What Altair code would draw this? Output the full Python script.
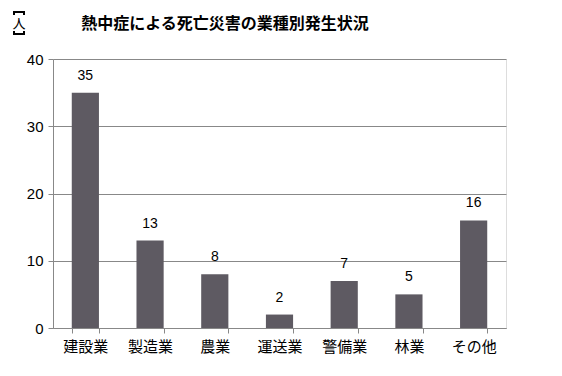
import altair as alt
import pandas as pd

categories = ["建設業", "製造業", "農業", "運送業", "警備業", "林業", "その他"]
deaths = [35, 13, 8, 2, 7, 5, 16]
y_ticks = [0, 10, 20, 30, 40]
title_text = "熱中症による死亡災害の業種別発生状況"
unit_text = "人"

df = pd.DataFrame({"cat": categories, "v": deaths})
FONT = "Noto Sans CJK JP"

x = alt.X("cat:N", sort=categories, title=None,
          scale=alt.Scale(paddingInner=0.58, paddingOuter=0.29),
          axis=alt.Axis(labelAngle=0, labelFontSize=15, labelFont=FONT, labelColor="#000",
                        labelPadding=6, tickSize=5, tickColor="#888", domainColor="#888",
                        tickBand="extent", grid=False))
y = alt.Y("v:Q", title=None, scale=alt.Scale(domain=[0, 40], nice=False),
          axis=alt.Axis(values=y_ticks, labelFontSize=15, labelFont="Liberation Sans",
                        labelColor="#000", labelPadding=5, tickSize=5, tickColor="#888",
                        domainColor="#888", gridColor="#888", gridOpacity=1))

bars = alt.Chart(df).mark_bar(color="#5e5a62").encode(x=x, y=y)
labels = alt.Chart(df).mark_text(dy=-10, baseline="bottom", fontSize=14,
                                 font="Liberation Sans", color="#000").encode(
    x=alt.X("cat:N", sort=categories), y="v:Q", text="v:Q")

title = alt.Chart(pd.DataFrame({"t": [title_text]})).mark_text(
    fontSize=16, fontWeight="bold", font=FONT, color="#000", align="center", baseline="middle"
).encode(x=alt.value(172), y=alt.value(-35), text="t:N")

unit = alt.Chart(pd.DataFrame({"t": [unit_text]})).mark_text(
    fontSize=13, font=FONT, color="#000", align="center", baseline="middle"
).encode(x=alt.value(-34), y=alt.value(-35), text="t:N")

def seg(x1, x2, y1, y2):
    return alt.Chart(pd.DataFrame({"a": [0]})).mark_rule(color="#000", strokeWidth=2).encode(
        x=alt.value(x1), x2=alt.value(x2), y=alt.value(y1), y2=alt.value(y2))

brackets = [
    seg(-39, -29, -47, -47), seg(-39, -39, -48, -44), seg(-29, -29, -48, -44),
    seg(-39, -29, -25, -25), seg(-39, -39, -28, -24), seg(-29, -29, -28, -24),
]

chart = alt.layer(bars, labels, title, unit, *brackets).properties(
    width=453, height=269,
    autosize=alt.AutoSizeParams(type="none"),
    padding={"left": 45, "top": 51, "right": 48, "bottom": 40},
).configure_view(stroke=None).configure(background="white")

chart.save("out.html", embed_options={"renderer": "svg", "actions": False})
